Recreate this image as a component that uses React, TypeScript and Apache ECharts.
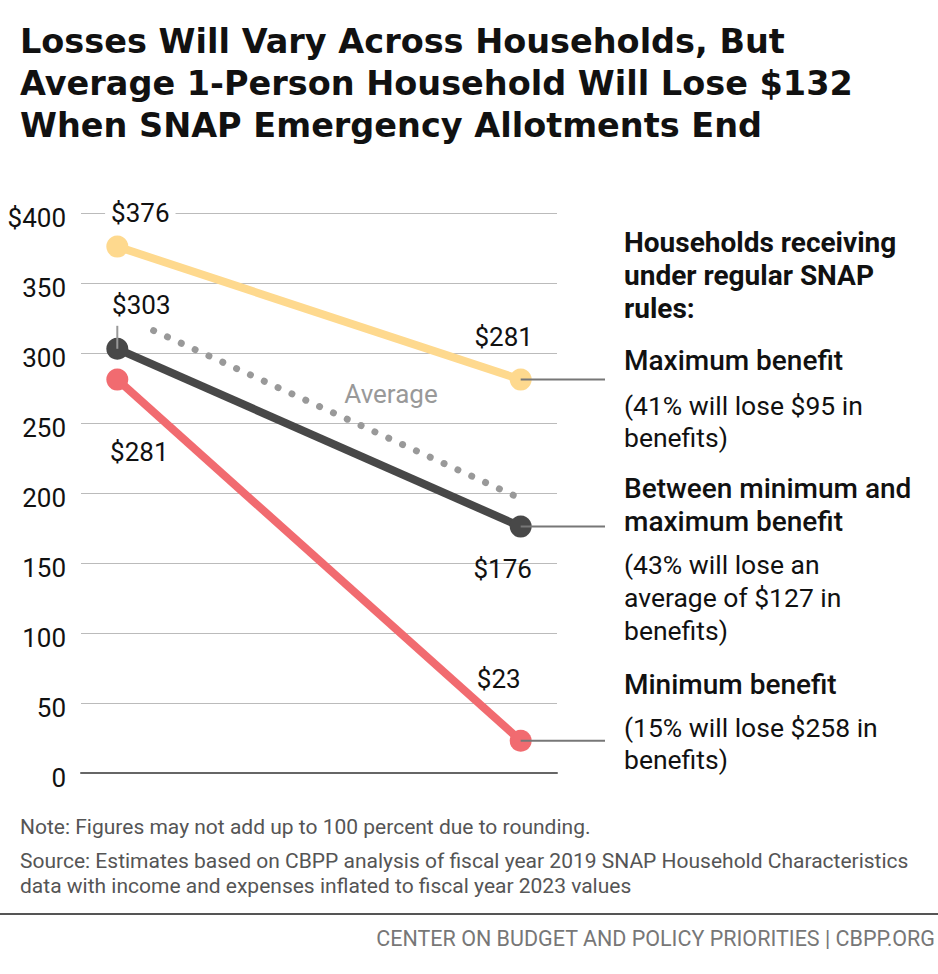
import React, { useEffect, useRef } from "react";
import * as echarts from "echarts";

// Data
const periods = [0, 1]; // 0 = with emergency allotments, 1 = after they end
const maxBenefit = [376, 281];
const midBenefit = [303, 176];
const minBenefit = [281, 23];
const averageStartX = 0.09;
const averageValues = [316, 196];
const yTicks = [0, 50, 100, 150, 200, 250, 300, 350, 400];

const titleLines = [
  "Losses Will Vary Across Households, But",
  "Average 1-Person Household Will Lose $132",
  "When SNAP Emergency Allotments End",
];

const YELLOW = "#FED98E";
const DARK = "#484848";
const RED = "#F16B70";
const FONT = "Roboto, 'Noto Sans', sans-serif";
const TITLE_FONT = "'DejaVu Sans', Roboto, sans-serif";

export default function App() {
  const ref = useRef<HTMLDivElement>(null);
  useEffect(() => {
    if (!ref.current) return;
    const chart = echarts.init(ref.current, null, { renderer: "svg" });

    const lbl = (dx: number, dy: number, bg = false) => ({
      show: true,
      position: "inside",
      align: "center",
      verticalAlign: "middle",
      offset: [dx, dy],
      fontSize: 26,
      color: "#111",
      fontFamily: FONT,
      backgroundColor: bg ? "#fff" : "transparent",
      padding: bg ? [0, 6] : 0,
      formatter: (p: any) => "$" + p.value[1],
    });

    const mkSeries = (name: string, vals: number[], color: string, labels: any[]) => ({
      name,
      type: "line",
      data: periods.map((x, i) => ({ value: [x, vals[i]], label: labels[i] })),
      symbol: "circle",
      symbolSize: 22,
      lineStyle: { color, width: 8 },
      itemStyle: { color },
      z: 3,
    });

    const option: any = {
      animation: false,
      backgroundColor: "#fff",
      grid: { left: 81, top: 213, width: 476, height: 560, containLabel: false },
      xAxis: {
        type: "value",
        min: -0.09,
        max: 1.09,
        axisLine: { show: true, lineStyle: { color: "#666", width: 2 } },
        axisTick: { show: false },
        axisLabel: { show: false },
        splitLine: { show: false },
      },
      yAxis: {
        type: "value",
        min: 0,
        max: 400,
        interval: 50,
        axisLine: { show: false },
        axisTick: { show: false },
        splitLine: { lineStyle: { color: "#bbb", width: 1 } },
        axisLabel: {
          fontSize: 26,
          color: "#111",
          fontFamily: FONT,
          margin: 15,
          verticalAlign: "top",
          lineHeight: 10,
          formatter: (v: number) => (v === yTicks[yTicks.length - 1] ? "$" + v : String(v)),
        },
      },
      series: [
        {
          name: "Average",
          type: "line",
          data: [
            [averageStartX, averageValues[0]],
            [periods[1], averageValues[1]],
          ],
          symbol: "none",
          lineStyle: { color: "#999", width: 7, type: [0.01, 15.2], cap: "round" },
          z: 2,
        },
        mkSeries("Minimum benefit", minBenefit, RED, [lbl(22, 72), lbl(-22, -62)]),
        mkSeries("Between minimum and maximum benefit", midBenefit, DARK, [lbl(24, -44), lbl(-18, 42)]),
        mkSeries("Maximum benefit", maxBenefit, YELLOW, [lbl(23, -34, true), lbl(-17, -43, true)]),
      ],
    };
    chart.setOption(option);

    const p = (x: number, y: number) => chart.convertToPixel({ gridIndex: 0 }, [x, y]) as number[];
    const pYR = p(1, maxBenefit[1]);
    const pDR = p(1, midBenefit[1]);
    const pRR = p(1, minBenefit[1]);
    const pDL = p(0, midBenefit[0]);

    const txt = (x: number, y: number, text: string, fontSize: number, fontWeight: any, color: string, lineHeight: number, align = "left", fontFamily = FONT) => ({
      type: "text",
      x,
      y,
      z: 100,
      style: {
        text,
        fontSize,
        fontWeight,
        fill: color,
        fontFamily,
        lineHeight,
        align,
        verticalAlign: "top",
      },
    });
    const ln = (x1: number, y1: number, x2: number, y2: number, color: string, w: number) => ({
      type: "line",
      z: 100,
      shape: { x1, y1, x2, y2 },
      style: { stroke: color, lineWidth: w },
    });

    chart.setOption({
      graphic: [
        ...titleLines.map((t, i) => txt(20, 21 + i * 42, t, 33.5, 700, "#111", 40, "left", TITLE_FONT)),
        txt(624, 226, "Households receiving\nunder regular SNAP\nrules:", 28, 700, "#111", 33),
        txt(624, 344, "Maximum benefit", 28, 500, "#111", 33),
        txt(624, 389, "(41% will lose $95 in\nbenefits)", 26.5, 400, "#111", 32),
        txt(624, 472, "Between minimum and\nmaximum benefit", 28, 500, "#111", 33),
        txt(624, 548, "(43% will lose an\naverage of $127 in\nbenefits)", 26.5, 400, "#111", 33),
        txt(624, 668, "Minimum benefit", 28, 500, "#111", 33),
        txt(624, 711, "(15% will lose $258 in\nbenefits)", 26.5, 400, "#111", 32),
        txt(391, 380, "Average", 26, 400, "#999", 28, "center"),
        ln(pYR[0], pYR[1], 605, pYR[1], "#777", 2),
        ln(pDR[0], pDR[1], 605, pDR[1], "#777", 2),
        ln(pRR[0], pRR[1], 605, pRR[1], "#777", 2),
        ln(pDL[0], pDL[1], pDL[0], pDL[1] - 23, "#999", 2),
        txt(20, 814, "Note: Figures may not add up to 100 percent due to rounding.", 21, 400, "#555", 25),
        txt(20, 848, "Source: Estimates based on CBPP analysis of fiscal year 2019 SNAP Household Characteristics\ndata with income and expenses inflated to fiscal year 2023 values", 21, 400, "#555", 25),
        ln(0, 914, 938, 914, "#555", 2),
        txt(935, 926, "CENTER ON BUDGET AND POLICY PRIORITIES | CBPP.ORG", 21.5, 400, "#777", 24, "right"),
      ],
    });

    return () => chart.dispose();
  }, []);

  return (
    <div
      ref={ref}
      style={{ position: "fixed", left: 0, top: 0, width: 938, height: 974, background: "#fff" }}
    />
  );
}
